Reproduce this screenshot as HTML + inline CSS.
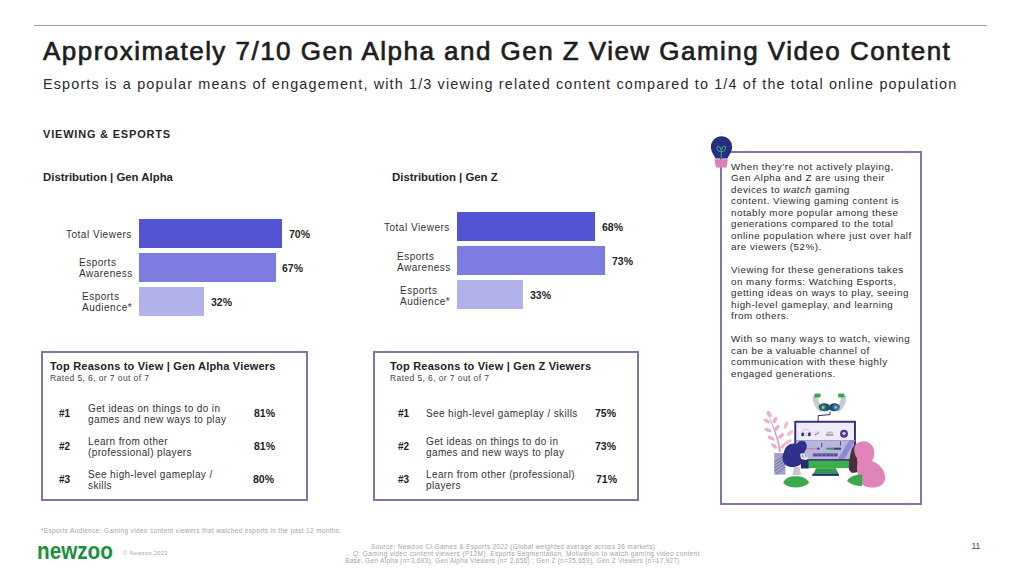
<!DOCTYPE html>
<html><head><meta charset="utf-8">
<style>
*{margin:0;padding:0;box-sizing:border-box}
html,body{width:1024px;height:576px;overflow:hidden;background:#fff}
body{position:relative;font-family:"Liberation Sans",sans-serif;color:#262626}
.a{position:absolute;white-space:nowrap}
.rule{position:absolute;left:34px;top:25px;width:953px;height:1px;background:#a0a0a0}
.title{left:43px;top:34px;font-size:26px;line-height:34px;letter-spacing:1.47px;color:#1e1e1e;-webkit-text-stroke:0.7px #1e1e1e}
.sub{left:43px;top:74px;font-size:14.4px;line-height:20px;letter-spacing:1.15px;color:#2a2a2a}
.sec{left:43px;top:127px;font-size:11px;letter-spacing:0.8px;line-height:14px;font-weight:bold;color:#262626}
.dist{font-size:11.4px;line-height:14px;font-weight:bold;color:#262626}
.bar{position:absolute;height:29px}
.b1{background:#5353d4}.b2{background:#7c7ce0}.b3{background:#b2b2ea}
.lab{position:absolute;font-size:10px;letter-spacing:0.5px;line-height:10.5px;color:#333;white-space:nowrap}
.pct{position:absolute;font-size:10.5px;line-height:12px;font-weight:bold;color:#262626}
.box{position:absolute;border:2px solid #7a78a8}
.bt{position:absolute;font-size:11px;letter-spacing:0.2px;line-height:13px;font-weight:bold;color:#222;white-space:nowrap}
.bs{position:absolute;font-size:8.5px;letter-spacing:0.4px;line-height:10px;color:#444;white-space:nowrap}
.rk{position:absolute;font-size:10px;line-height:12px;font-weight:bold;color:#222}
.rt{position:absolute;font-size:10px;letter-spacing:0.38px;line-height:11.3px;color:#333;white-space:nowrap}
.rp{position:absolute;font-size:10.5px;line-height:12px;font-weight:bold;color:#222}
.side{position:absolute;left:731px;top:160.5px;font-size:9.8px;letter-spacing:0.5px;line-height:11.5px;color:#2a2a2a;white-space:nowrap}
.foot{position:absolute;font-size:6.5px;line-height:7px;color:#a4a4a4;white-space:nowrap;letter-spacing:0.32px}
</style></head><body>
<div class="rule"></div>
<div class="a title">Approximately 7/10 Gen Alpha and Gen Z View Gaming Video Content</div>
<div class="a sub">Esports is a popular means of engagement, with 1/3 viewing related content compared to 1/4 of the total online population</div>
<div class="a sec">VIEWING &amp; ESPORTS</div>

<!-- Gen Alpha chart -->
<div class="a dist" style="left:43px;top:170px">Distribution | Gen Alpha</div>
<div class="bar b1" style="left:139px;top:219px;width:143px"></div>
<div class="bar b2" style="left:139px;top:253px;width:137px"></div>
<div class="bar b3" style="left:139px;top:287px;width:65px"></div>
<div class="lab" style="left:66px;top:230px">Total Viewers</div>
<div class="lab" style="left:79px;top:258px">Esports<br>Awareness</div>
<div class="lab" style="left:82px;top:292px">Esports<br>Audience*</div>
<div class="pct" style="left:289px;top:228px">70%</div>
<div class="pct" style="left:282px;top:262px">67%</div>
<div class="pct" style="left:211px;top:296px">32%</div>

<!-- Gen Z chart -->
<div class="a dist" style="left:392px;top:170px">Distribution | Gen Z</div>
<div class="bar b1" style="left:457px;top:212px;width:138px"></div>
<div class="bar b2" style="left:457px;top:246px;width:148px"></div>
<div class="bar b3" style="left:457px;top:280px;width:66px"></div>
<div class="lab" style="left:384px;top:223px">Total Viewers</div>
<div class="lab" style="left:397px;top:252px">Esports<br>Awareness</div>
<div class="lab" style="left:400px;top:286px">Esports<br>Audience*</div>
<div class="pct" style="left:602px;top:221px">68%</div>
<div class="pct" style="left:612px;top:255px">73%</div>
<div class="pct" style="left:530px;top:289px">33%</div>

<!-- Box 1 -->
<div class="box" style="left:41px;top:351px;width:267px;height:150px"></div>
<div class="bt" style="left:50px;top:360px">Top Reasons to View | Gen Alpha Viewers</div>
<div class="bs" style="left:50px;top:373px">Rated 5, 6, or 7 out of 7</div>
<div class="rk" style="left:59px;top:408px">#1</div>
<div class="rt" style="left:88px;top:403px">Get ideas on things to do in<br>games and new ways to play</div>
<div class="rp" style="left:254px;top:407px">81%</div>
<div class="rk" style="left:59px;top:441px">#2</div>
<div class="rt" style="left:88px;top:436px">Learn from other<br>(professional) players</div>
<div class="rp" style="left:254px;top:440px">81%</div>
<div class="rk" style="left:59px;top:474px">#3</div>
<div class="rt" style="left:88px;top:469px">See high-level gameplay /<br>skills</div>
<div class="rp" style="left:253px;top:473px">80%</div>

<!-- Box 2 -->
<div class="box" style="left:373px;top:351px;width:266px;height:150px"></div>
<div class="bt" style="left:390px;top:360px">Top Reasons to View | Gen Z Viewers</div>
<div class="bs" style="left:390px;top:373px">Rated 5, 6, or 7 out of 7</div>
<div class="rk" style="left:398px;top:408px">#1</div>
<div class="rt" style="left:426px;top:408px">See high-level gameplay / skills</div>
<div class="rp" style="left:595px;top:407px">75%</div>
<div class="rk" style="left:398px;top:441px">#2</div>
<div class="rt" style="left:426px;top:436px">Get ideas on things to do in<br>games and new ways to play</div>
<div class="rp" style="left:595px;top:440px">73%</div>
<div class="rk" style="left:398px;top:474px">#3</div>
<div class="rt" style="left:426px;top:469px">Learn from other (professional)<br>players</div>
<div class="rp" style="left:596px;top:473px">71%</div>



<!-- Side box -->
<div class="box" style="left:720px;top:151px;width:202px;height:354px"></div>
<div class="side">When they're not actively playing,<br>Gen Alpha and Z are using their<br>devices to <i>watch</i> gaming<br>content. Viewing gaming content is<br>notably more popular among these<br>generations compared to the total<br>online population where just over half<br>are viewers (52%).<br><br>Viewing for these generations takes<br>on many forms: Watching Esports,<br>getting ideas on ways to play, seeing<br>high-level gameplay, and learning<br>from others.<br><br>With so many ways to watch, viewing<br>can be a valuable channel of<br>communication with these highly<br>engaged generations.</div>

<!-- Footer -->
<div class="foot" style="left:41px;top:527px">*Esports Audience: Gaming video content viewers that watched esports in the past 12 months.</div>
<div class="a" style="left:36.5px;top:539px;font-size:23px;line-height:24px;font-weight:bold;color:#1a8f3c;letter-spacing:0;transform:scaleX(0.9);transform-origin:0 0">newzoo</div>
<div class="foot" style="left:123px;top:550px;font-size:5.5px;letter-spacing:0.45px">© Newzoo 2022</div>
<div class="foot" style="left:371px;top:543px">Source: Newzoo CI Games &amp; Esports 2022 (Global weighted average across 36 markets)</div>
<div class="foot" style="left:353px;top:550px;letter-spacing:0.37px">Q: Gaming video content viewers (P12M), Esports Segmentation, Motivation to watch gaming video content</div>
<div class="foot" style="left:345px;top:557px;letter-spacing:0.29px">Base: Gen Alpha (n=3,693), Gen Alpha Viewers (n= 2,656) ; Gen Z (n=25,659), Gen Z Viewers (n=17,927)</div>
<div class="foot" style="left:971.5px;top:542.5px;font-size:8.5px;letter-spacing:-0.2px;color:#444">11</div>
<svg style="position:absolute;left:0;top:0" width="1024" height="576" viewBox="0 0 1024 576">
<!-- lightbulb -->
<g>
<path d="M721.5,136.2 A10.6,10.6 0 0 1 732.1,146.8 C732.1,151.5 729.5,154.5 727.4,158.6 L715.6,158.6 C713.5,154.5 710.9,151.5 710.9,146.8 A10.6,10.6 0 0 1 721.5,136.2 Z" fill="#2a2c80"/>
<path d="M714.3,159.2 L727.8,159.2 L726.6,167.6 L716,167.6 Z" fill="#de7fb3"/>
<path d="M721.3,158.5 L721.3,150.5 M721.3,151.5 C719,152 716.5,150 717,147.5 C717.8,145.5 720.5,146.5 721.3,150.5 M721.3,151.5 C723.6,152 726,150 725.6,147.3 C724.8,145.3 722,146.3 721.3,150.5" stroke="#3f9e80" stroke-width="1.1" fill="none"/>
<circle cx="720.6" cy="133.3" r="0.6" fill="#c9c9d6"/>
<circle cx="710.4" cy="139" r="0.6" fill="#c9c9d6"/>
<circle cx="733" cy="138" r="0.6" fill="#c9c9d6"/>
</g>
<!-- illustration -->
<g>
<!-- plant leaves -->
<g fill="#e6b3cf">
<path d="M779,452 C778,440 772,425 768,414 C773,424 779,438 781,452 Z" fill="#d99ab9"/>
<ellipse cx="769" cy="414" rx="2" ry="3.5" transform="rotate(-30 769 414)"/>
<ellipse cx="767" cy="421" rx="1.8" ry="3.5" transform="rotate(-60 767 421)"/>
<ellipse cx="775" cy="420" rx="1.8" ry="3.5" transform="rotate(30 775 420)"/>
<ellipse cx="768" cy="430" rx="1.8" ry="3.8" transform="rotate(-70 768 430)"/>
<ellipse cx="777" cy="428" rx="1.8" ry="3.5" transform="rotate(40 777 428)"/>
<ellipse cx="771" cy="438" rx="1.8" ry="3.8" transform="rotate(-60 771 438)"/>
<ellipse cx="781" cy="436" rx="1.8" ry="3.5" transform="rotate(50 781 436)"/>
<ellipse cx="774" cy="446" rx="1.8" ry="3.5" transform="rotate(-50 774 446)"/>
<ellipse cx="786" cy="425" rx="1.8" ry="4" transform="rotate(20 786 425)" fill="#ecc1d6"/>
<ellipse cx="790" cy="433" rx="1.8" ry="4" transform="rotate(50 790 433)" fill="#ecc1d6"/>
<ellipse cx="788" cy="442" rx="1.8" ry="4" transform="rotate(60 788 442)" fill="#ecc1d6"/>
<ellipse cx="783" cy="446" rx="1.6" ry="3.5" transform="rotate(40 783 446)"/>
</g>
<!-- vase -->
<rect x="774.2" y="453" width="11.2" height="21.6" fill="#a3a3c9"/>
<path d="M774.5,462 L785,455 M774.5,465 L785,458 M774.5,468 L785,461 M774.5,471 L785,464 M776,474 L785,467" stroke="#5a5a96" stroke-width="0.7"/>
<!-- monitor -->
<rect x="794.3" y="420.8" width="61.6" height="40" fill="#2c2c72"/>
<rect x="796.2" y="422.7" width="57.8" height="17.5" fill="#eeecf8"/>
<rect x="796.2" y="440.2" width="57.8" height="19.7" fill="#b9b6dc"/>
<!-- icons -->
<path d="M802,436 L802,433 C802,428 810,428 810,433 L810,436" stroke="#d9a8c4" stroke-width="0.8" fill="none"/>
<rect x="801.5" y="432.5" width="2.4" height="3.8" rx="1" fill="#2c2c62"/>
<rect x="808.2" y="432.5" width="2.4" height="3.8" rx="1" fill="#2c2c62"/>
<rect x="804.6" y="433.3" width="2.8" height="2.4" fill="#bcd6c6"/>
<path d="M815,435 L819,432.5" stroke="#8a3a72" stroke-width="1.2"/>
<circle cx="817" cy="433" r="2.2" fill="#f0c4da" opacity="0.6"/>
<path d="M826,433.5 C826,430.5 833.5,430.5 833.5,433.5 Z" fill="#d9b7a8"/>
<rect x="825.8" y="434.2" width="7.7" height="1.6" fill="#9a94b4"/>
<circle cx="844" cy="433.8" r="4" fill="#4b3f86"/>
<circle cx="844" cy="433.3" r="1.6" fill="#d6c9e6"/>
<!-- panel details -->
<rect x="805.5" y="448.2" width="12.5" height="1.1" fill="#c27cb0"/>
<circle cx="818.5" cy="448.7" r="1.1" fill="#2c2c72"/>
<rect x="821.3" y="443" width="0.9" height="4.2" fill="#3a3a80"/>
<rect x="826.4" y="447.7" width="7.5" height="2" fill="#3b9a5a"/>
<rect x="833.9" y="447.7" width="7.1" height="2" fill="#3a3a90"/>
<rect x="840" y="441.5" width="0.9" height="4" fill="#3a3a80"/>
<rect x="812.8" y="453.4" width="25" height="3" fill="#4d4a96"/>
<path d="M812.8,454.9 L837.8,454.9" stroke="#b9b6dc" stroke-width="0.5" stroke-dasharray="2.5 1.5"/>
<path d="M837.5,459.7 L849.5,440 L855.5,440 L844,459.7 Z" fill="#8d8ad0"/>
<rect x="796.2" y="459.2" width="59.8" height="1.5" fill="#2c2c72"/>
<!-- cable -->
<path d="M830,411.7 L830,414.6 L818.2,415.6 L818.2,421" stroke="#2c2c72" stroke-width="1" fill="none"/>
<!-- headset -->
<path d="M815.5,396 C815,402 817,406 822,410 M843.5,396 C844,402 842,406 837,410" stroke="#c9c9ce" stroke-width="5.5" fill="none"/>
<rect x="814.4" y="393.6" width="6.2" height="3.8" fill="#3aa54a"/>
<rect x="838.2" y="393.6" width="6.2" height="3.8" fill="#3aa54a"/>
<path d="M818.7,407 C818.7,402.5 829,402 829.5,406 C830,402 839.7,402.5 839.7,407 C839.7,411.5 832,412.5 829.5,409.5 C827,412.5 818.7,411.5 818.7,407 Z" fill="#1f4f6a"/>
<circle cx="823.2" cy="407.4" r="3.2" fill="#2f7a5e"/>
<circle cx="835.8" cy="407.4" r="3.2" fill="#3d6f9a"/>
<circle cx="823.2" cy="407.4" r="1.4" fill="#8ccab0"/>
<circle cx="835.8" cy="407.4" r="1.4" fill="#9bc0da"/>
<!-- monitor bottom green -->
<rect x="807.6" y="460.7" width="49" height="7.5" fill="#3cae4c"/>
<path d="M816,468.2 L835.8,468.2 L838.5,473.8 L813.5,473.8 Z" fill="#2f9a45"/>
<rect x="812.3" y="473.6" width="26.6" height="2.3" fill="#24326e"/>
<!-- left person -->
<path d="M794,467 L799.5,467 L801,475 L792.5,475 Z" fill="#cbc3cf"/>
<path d="M784,452 C785,445 792,442 797,444 C799,440 804,440 806,443 C808,446 806,450 804,453 C805,458 803,464 798,466 C792,468.5 785,467 783,461 C782,458 782.5,455 784,452 Z" fill="#2f2f8c"/>
<path d="M800.6,460 L808.5,460 L808.5,468.4 L801,468.4 Z" fill="#25306a"/>
<path d="M800,454 C803,452 807,454 808.5,458.5 L806,460 L801,459 Z" fill="#e4e1ee"/><path d="M802,455 L803.5,457.5 M805,454.5 L806.5,457" stroke="#3a3a6a" stroke-width="0.6"/>
<path d="M783.2,483 C785,478 790,476.3 796,476.3 C802,476.3 807,478 809,483 C805,486.5 800,487.5 796,487.5 C791,487.5 786,486 783.2,483 Z" fill="#3ca84c"/>
<!-- right person -->
<path d="M849,470 C848.5,464 849.5,458 851,452 C852,447 854,445 857,444.5 L858.5,472 L852,473 Z" fill="#4a2f3e"/>
<path d="M856,444 C862,439 872,441 874,450 C875,455 873,459 872,461 C880,464 886,471 885,479 C884,486 876,489 868,487 C861,486 859,481 858,475 C856,468 858,463 857,458 C854,454 853,448 856,444 Z" fill="#e083b6"/>
<path d="M847,481 C850,476 856,474.6 862.3,474.8 L862,486 C856,486 850,484 847,481 Z" fill="#3ca84c"/>
</g>
</svg>
</body></html>
